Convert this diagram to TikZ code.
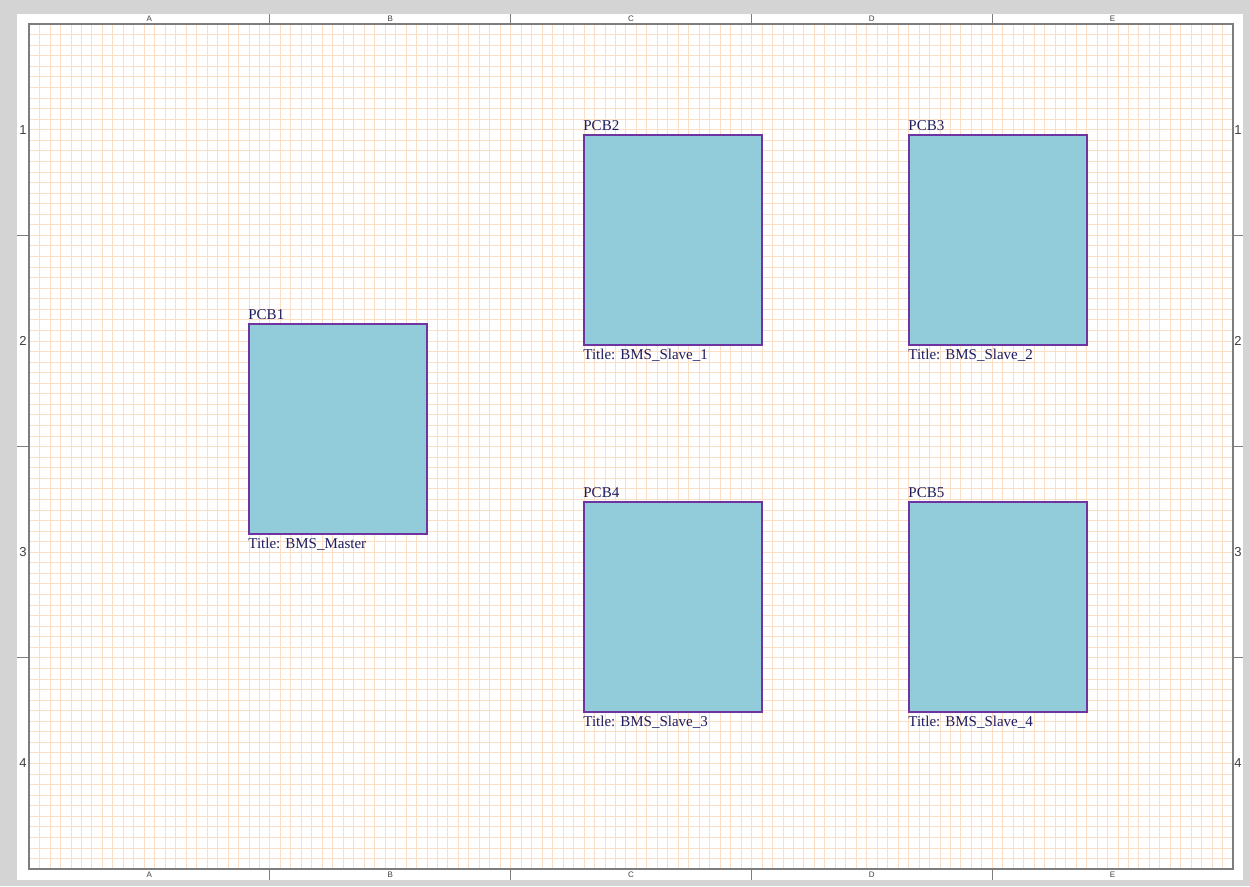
\documentclass[tikz,border=0pt]{standalone}
\usepackage{fontspec}
\setmainfont{Liberation Serif}
\newfontfamily\zonefont{Liberation Sans}
\usetikzlibrary{positioning}
\definecolor{sheetgray}{RGB}{212,212,212}
\definecolor{gridorange}{RGB}{250,222,198}
\definecolor{framegray}{RGB}{125,125,125}
\definecolor{boxfill}{RGB}{146,203,217}
\definecolor{boxline}{RGB}{112,52,160}
\definecolor{labelnavy}{RGB}{30,28,96}
\tikzset{
  gridline/.style={gridorange, line width=0.7pt},
  pcb/.style={draw=boxline, line width=1.6pt, fill=boxfill, minimum width=178pt, minimum height=210pt, inner sep=0pt},
  pcblabel/.style={text=labelnavy, font=\fontsize{15}{15}\selectfont, inner sep=0pt},
  zoneletter/.style={text=black!75, font=\zonefont\fontsize{8}{8}\selectfont, inner sep=0pt},
  zonenumber/.style={text=black!75, font=\zonefont\fontsize{13}{13}\selectfont, inner sep=0pt}
}
\begin{document}
\begin{tikzpicture}[x=1pt,y=-1pt]
\useasboundingbox (0,0) rectangle (1250,886);
\fill[sheetgray] (0,0) rectangle (1250,886);
\fill[white] (17,14) rectangle (1243,880);
% sheet grid
\foreach \i in {1,...,114}
  \draw[gridline] ({29+10.47*\i},24) -- ({29+10.47*\i},869);
\foreach \j in {1,...,79}
  \draw[gridline] (29,{24+10.5625*\j}) -- (1233,{24+10.5625*\j});
\draw[framegray, line width=1.2pt] (29,24) rectangle (1233,869);
% zones
\foreach \x in {269,510,751,992} {
  \draw[framegray, line width=1pt] (\x,14) -- (\x,24);
  \draw[framegray, line width=1pt] (\x,869) -- (\x,880);
}
\foreach \y in {235.25,446.5,657.75} {
  \draw[framegray, line width=1pt] (17,\y) -- (29,\y);
  \draw[framegray, line width=1pt] (1233,\y) -- (1243,\y);
}
\foreach \l [count=\i] in {A,B,C,D,E} {
  \node[zoneletter] at ({29+240.8*(\i-0.5)},19) {\l};
  \node[zoneletter] at ({29+240.8*(\i-0.5)},875) {\l};
}
\foreach \i in {1,2,3,4} {
  \node[zonenumber] at (23,{24+211.25*(\i-0.5)}) {\i};
  \node[zonenumber] at (1238,{24+211.25*(\i-0.5)}) {\i};
}
% boards
\node[pcb] (pcb1) at (338,429) {};
\node[pcb] (pcb2) at (673,240) {};
\node[pcb] (pcb3) at (998,240) {};
\node[pcb] (pcb4) at (673,607) {};
\node[pcb] (pcb5) at (998,607) {};
\node[pcblabel, above right=3pt and 0pt of pcb1.north west] {PCB1};
\node[pcblabel, above right=3pt and 0pt of pcb2.north west] {PCB2};
\node[pcblabel, above right=3pt and 0pt of pcb3.north west] {PCB3};
\node[pcblabel, above right=3pt and 0pt of pcb4.north west] {PCB4};
\node[pcblabel, above right=3pt and 0pt of pcb5.north west] {PCB5};
\node[pcblabel, below right=3pt and 0pt of pcb1.south west] {Title: BMS\_Master};
\node[pcblabel, below right=3pt and 0pt of pcb2.south west] {Title: BMS\_Slave\_1};
\node[pcblabel, below right=3pt and 0pt of pcb3.south west] {Title: BMS\_Slave\_2};
\node[pcblabel, below right=3pt and 0pt of pcb4.south west] {Title: BMS\_Slave\_3};
\node[pcblabel, below right=3pt and 0pt of pcb5.south west] {Title: BMS\_Slave\_4};
\end{tikzpicture}
\end{document}
